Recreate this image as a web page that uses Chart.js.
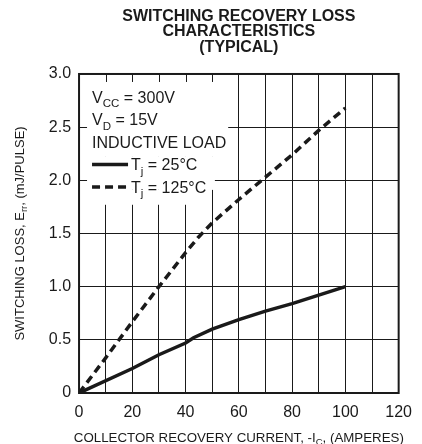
<!DOCTYPE html>
<html>
<head>
<meta charset="utf-8">
<script src="https://cdn.jsdelivr.net/npm/chart.js@4.4.1/dist/chart.umd.min.js"></script>
<style>
  html, body { margin: 0; padding: 0; background: #fff; }
  #wrap { width: 422px; height: 444px; position: relative; }
</style>
</head>
<body>
<div id="wrap"><canvas id="lossChart"></canvas></div>
<script>
// valores (curvas típicas)
const current25 = [0, 20, 30, 40, 43, 50, 60, 70, 80, 90, 100];
const loss25 = [0, 0.23, 0.36, 0.47, 0.52, 0.60, 0.69, 0.77, 0.84, 0.92, 1.0];
const current125 = [0, 10, 20, 30, 40, 45, 50, 60, 70, 80, 90, 100];
const loss125 = [0, 0.33, 0.67, 1.0, 1.32, 1.47, 1.60, 1.82, 2.03, 2.24, 2.47, 2.68];

const xTickLabels = ['0', '20', '40', '60', '80', '100', '120'];
const yTickLabels = ['0', '0.5', '1.0', '1.5', '2.0', '2.5', '3.0'];
const titleLines = ['SWITCHING RECOVERY LOSS', 'CHARACTERISTICS', '(TYPICAL)'];

// textos com subscrito: [texto, subscrito?]
const noteLines = [
    [['V', false], ['CC', true], [' = 300V', false]],
    [['V', false], ['D', true], [' = 15V', false]],
    [['INDUCTIVE LOAD', false]]
];
const seriesLabels = [
    [['T', false], ['j', true], [' = 25°C', false]],
    [['T', false], ['j', true], [' = 125°C', false]]
];
const xTitle = [['COLLECTOR RECOVERY CURRENT, -I', false], ['C', true], [', (AMPERES)', false]];
const yTitle = [['SWITCHING LOSS, E', false], ['rr', true], [', (mJ/PULSE)', false]];

const FONT = "'Liberation Sans', Arial, Helvetica, sans-serif";
const INK = '#1a1a1a';

function runsWidth(ctx, runs, size) {
    let w = 0;
    runs.forEach(([t, sub]) => {
        ctx.font = (sub ? size * 0.72 : size) + 'px ' + FONT;
        w += ctx.measureText(t).width;
    });
    return w;
}

function drawRuns(ctx, runs, x, y, size, center) {
    let cx = center ? x - runsWidth(ctx, runs, size) / 2 : x;
    ctx.textBaseline = 'alphabetic';
    ctx.textAlign = 'left';
    runs.forEach(([t, sub]) => {
        ctx.font = (sub ? size * 0.72 : size) + 'px ' + FONT;
        ctx.fillText(t, cx, sub ? y + size * 0.28 : y);
        cx += ctx.measureText(t).width;
    });
}

// área branca atrás da legenda (em unidades dos eixos)
const knockouts = [[0, 56, 2.22, 3.0], [0, 51, 1.91, 2.22], [0, 48, 1.77, 1.91]];

const notesPlugin = {
    id: 'notes',
    beforeDatasetsDraw(chart) {
        const { ctx, chartArea: a, scales: { x, y } } = chart;
        ctx.save();
        ctx.fillStyle = '#fff';
        knockouts.forEach(([x0, x1, y0, y1]) => {
            const l = Math.max(a.left + 1, x.getPixelForValue(x0));
            const r = x.getPixelForValue(x1);
            const t = Math.max(a.top + 1, y.getPixelForValue(y1));
            const b = y.getPixelForValue(y0);
            ctx.fillRect(l, t, r - l, b - t);
        });
        ctx.strokeStyle = INK;
        ctx.lineWidth = 1;
        ctx.beginPath();
        [10, 20, 30, 40, 50].forEach(v => {
            const px = Math.round(x.getPixelForValue(v)) + 0.5;
            ctx.moveTo(px, a.top);
            ctx.lineTo(px, a.top + 8);
        });
        [2.0, 2.5].forEach(v => {
            const py = Math.round(y.getPixelForValue(v)) + 0.5;
            ctx.moveTo(a.left, py);
            ctx.lineTo(a.left + 8, py);
        });
        ctx.stroke();

        ctx.fillStyle = INK;
        const tx = a.left + 13;
        const base = a.top + 29;
        const step = 22.4;
        noteLines.forEach((runs, i) => drawRuns(ctx, runs, tx, base + i * step, 16, false));
        seriesLabels.forEach((runs, i) => {
            const by = base + (3 + i) * step;
            ctx.beginPath();
            ctx.lineWidth = 3.5;
            ctx.setLineDash(i === 0 ? [] : [8, 5]);
            ctx.moveTo(tx, by - 5.7);
            ctx.lineTo(tx + 36, by - 5.7);
            ctx.stroke();
            ctx.setLineDash([]);
            drawRuns(ctx, runs, tx + 39, by, 16, false);
        });
        ctx.restore();
    },
    afterDraw(chart) {
        const { ctx, chartArea: a } = chart;
        ctx.save();
        ctx.strokeStyle = INK;
        ctx.lineWidth = 2;
        ctx.strokeRect(a.left, a.top, a.right - a.left, a.bottom - a.top);
        ctx.fillStyle = INK;
        drawRuns(ctx, xTitle, (a.left + a.right) / 2, 441.5, 13.3, true);
        ctx.translate(23.5, (a.top + a.bottom) / 2);
        ctx.rotate(-Math.PI / 2);
        drawRuns(ctx, yTitle, 0, 0, 13, true);
        ctx.restore();
    }
};

Chart.defaults.font.family = FONT;
Chart.defaults.color = INK;

new Chart(document.getElementById('lossChart'), {
    type: 'line',
    data: {
        datasets: [{
            label: 'Tj = 25°C',
            data: current25.map((c, i) => ({ x: c, y: loss25[i] })),
            borderColor: INK,
            borderWidth: 3.5,
            pointRadius: 0,
            tension: 0,
            fill: false
        }, {
            label: 'Tj = 125°C',
            data: current125.map((c, i) => ({ x: c, y: loss125[i] })),
            borderColor: INK,
            borderWidth: 3.5,
            borderDash: [8, 5],
            pointRadius: 0,
            tension: 0,
            fill: false
        }]
    },
    options: {
        responsive: true,
        maintainAspectRatio: false,
        animation: false,
        devicePixelRatio: 1,
        layout: { padding: { left: 40.8, right: 22.7, bottom: 11.8, top: 0 } },
        plugins: {
            legend: { display: false },
            tooltip: { enabled: false },
            title: {
                display: true,
                text: titleLines,
                fullSize: false,
                color: INK,
                font: { size: 16, weight: 'bold', lineHeight: 0.96 },
                padding: { top: 9, bottom: 18.9 }
            }
        },
        scales: {
            x: {
                type: 'linear',
                min: 0,
                max: 120,
                ticks: {
                    stepSize: 10,
                    autoSkip: false,
                    maxRotation: 0,
                    padding: 10,
                    font: { size: 16 },
                    callback: (v) => v % 20 === 0 ? xTickLabels[v / 20] : ''
                },
                grid: { color: INK, lineWidth: 1, drawTicks: false },
                border: { display: false }
            },
            y: {
                min: 0,
                max: 3,
                ticks: {
                    stepSize: 0.5,
                    padding: 8,
                    font: { size: 16 },
                    callback: (v) => yTickLabels[Math.round(v / 0.5)]
                },
                grid: { color: INK, lineWidth: 1, drawTicks: false },
                border: { display: false }
            }
        }
    },
    plugins: [notesPlugin]
});
</script>
</body>
</html>
